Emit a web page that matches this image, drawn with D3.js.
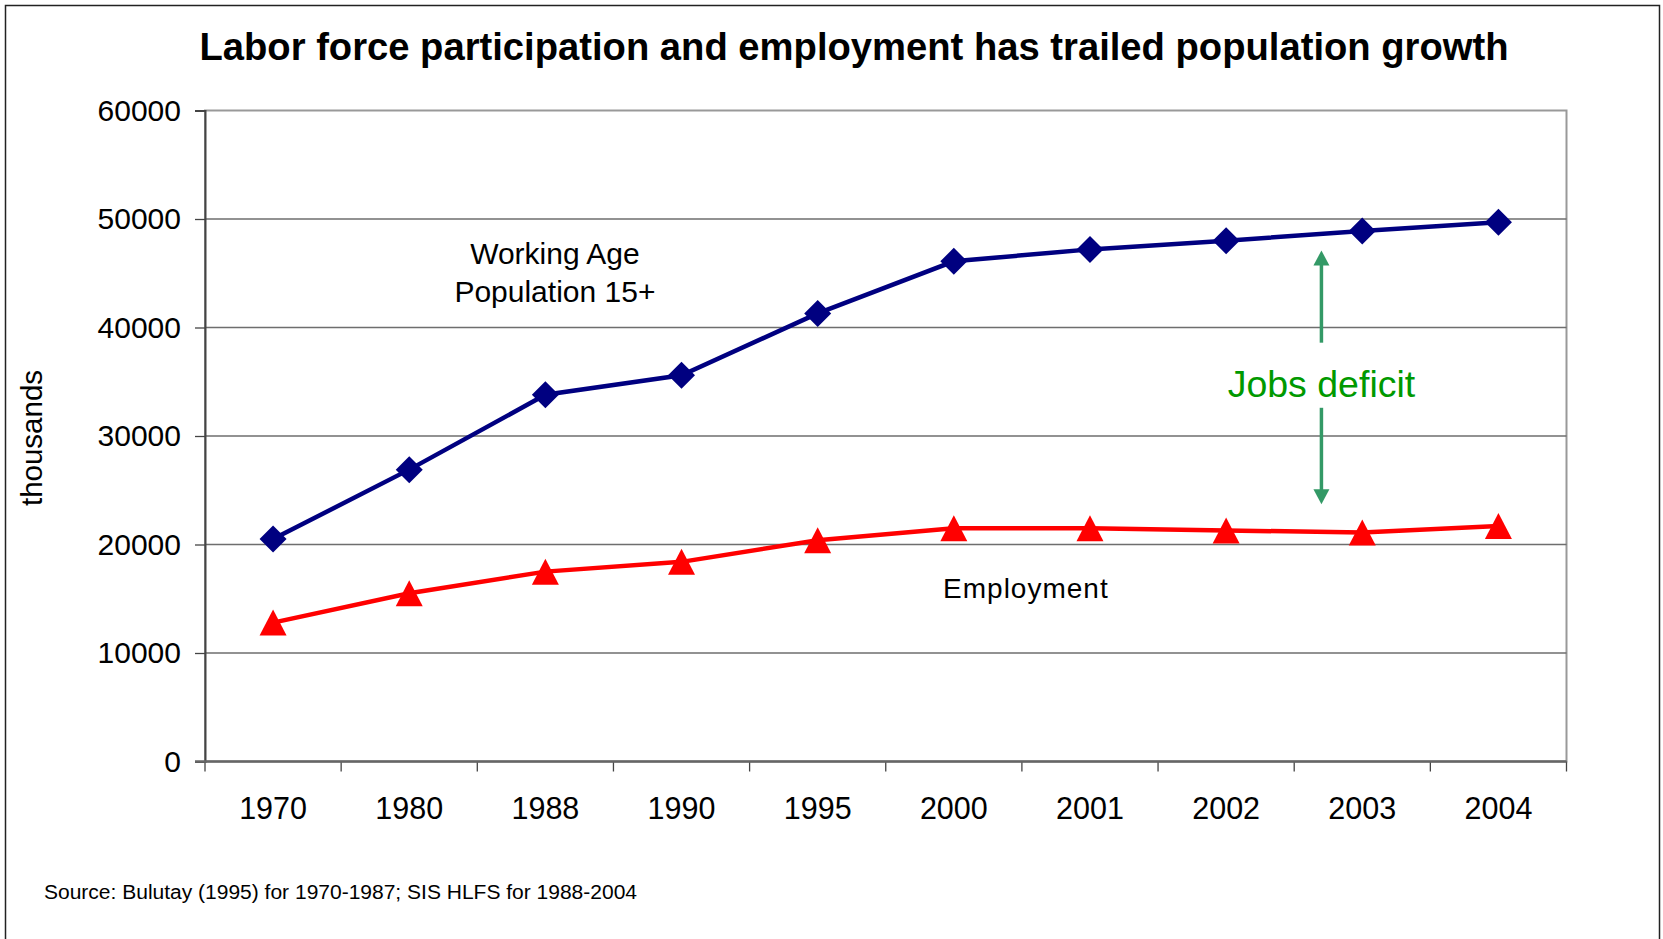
<!DOCTYPE html>
<html>
<head>
<meta charset="utf-8">
<script src="https://cdn.jsdelivr.net/npm/d3@7"></script>
<style>
  html, body { margin: 0; padding: 0; background: #fff; }
  svg { display: block; font-family: Arial, "Liberation Sans", sans-serif; }
</style>
</head>
<body>
<div class="graph"></div>
<script>
let width = 1663;
let height = 939;

// values (thousands)
let years = ['1970', '1980', '1988', '1990', '1995', '2000', '2001', '2002', '2003', '2004'];
let workingAge = [20500, 26900, 33800, 35600, 41300, 46100, 47200, 48000, 48900, 49700];
let employment = [12800, 15500, 17500, 18400, 20400, 21500, 21500, 21300, 21100, 21700];
let yTicks = [0, 10000, 20000, 30000, 40000, 50000, 60000];

let plotLeft = 205, plotRight = 1566.5, plotTop = 110.5, plotBottom = 761.5;

let svg = d3.select('.graph')
    .append('svg')
    .attr('width', width)
    .attr('height', height);

// outer frame
svg.append('rect')
    .attr('x', 5.5).attr('y', 5.5)
    .attr('width', 1654).attr('height', 945)
    .attr('fill', 'none')
    .attr('stroke', '#222')
    .attr('stroke-width', 1.5);

let x = d3.scaleBand()
    .domain(years)
    .range([plotLeft, plotRight])
    .padding(0);

let y = d3.scaleLinear()
    .domain([0, 60000])
    .range([plotBottom, plotTop]);

let cx = function (d, i) { return x(years[i]) + x.bandwidth() / 2; };

// plot area border
svg.append('rect')
    .attr('x', plotLeft).attr('y', plotTop)
    .attr('width', plotRight - plotLeft).attr('height', plotBottom - plotTop)
    .attr('fill', 'none')
    .attr('stroke', '#999')
    .attr('stroke-width', 2);

// gridlines
svg.append('g')
    .selectAll('line')
    .data(yTicks.filter(function (t) { return t > 0 && t < 60000; }))
    .enter().append('line')
    .attr('x1', plotLeft).attr('x2', plotRight)
    .attr('y1', function (d) { return y(d); })
    .attr('y2', function (d) { return y(d); })
    .attr('stroke', '#6e6e6e')
    .attr('stroke-width', 1.3);

// y axis
let yAxis = d3.axisLeft(y)
    .tickValues(yTicks)
    .tickSize(10)
    .tickPadding(14)
    .tickFormat(d3.format('d'));
let gy = svg.append('g')
    .attr('transform', 'translate(' + plotLeft + ',0)')
    .call(yAxis);
gy.select('.domain').attr('stroke', '#444').attr('stroke-width', 2);
gy.selectAll('.tick line').attr('stroke', '#444').attr('stroke-width', 1.3);
gy.selectAll('.tick text')
    .attr('font-size', '30px')
    .attr('font-family', 'Arial, "Liberation Sans", sans-serif')
    .attr('fill', '#000');

// x axis: ticks between categories, labels in the middle
let xAxis = d3.axisBottom(x).tickSize(0).tickPadding(36);
let gx = svg.append('g')
    .attr('transform', 'translate(0,' + plotBottom + ')')
    .call(xAxis);
gx.select('.domain').remove();
gx.selectAll('.tick text')
    .attr('font-size', '30.5px')
    .attr('font-family', 'Arial, "Liberation Sans", sans-serif')
    .attr('fill', '#000');

let bounds = years.map(function (d) { return x(d); }).concat([plotRight]);
svg.append('g')
    .selectAll('line')
    .data(bounds)
    .enter().append('line')
    .attr('x1', function (d) { return d; })
    .attr('x2', function (d) { return d; })
    .attr('y1', plotBottom)
    .attr('y2', plotBottom + 10)
    .attr('stroke', '#444')
    .attr('stroke-width', 1.3);

svg.append('line')
    .attr('x1', plotLeft - 10).attr('x2', plotRight)
    .attr('y1', plotBottom).attr('y2', plotBottom)
    .attr('stroke', '#666')
    .attr('stroke-width', 2.5);

// y axis title
svg.append('text')
    .attr('transform', 'translate(42,' + ((plotTop + plotBottom) / 2 + 2) + ') rotate(-90)')
    .attr('text-anchor', 'middle')
    .attr('font-size', '29.5px')
    .text('thousands');

// title
svg.append('text')
    .attr('x', 854)
    .attr('y', 60)
    .attr('text-anchor', 'middle')
    .attr('font-size', '38.2px')
    .attr('font-weight', 'bold')
    .text('Labor force participation and employment has trailed population growth');

// working age line + diamonds
let line = d3.line()
    .x(cx)
    .y(function (d) { return y(d); });

svg.append('path')
    .attr('d', line(workingAge))
    .attr('fill', 'none')
    .attr('stroke', '#000080')
    .attr('stroke-width', 4.5);

svg.append('g')
    .selectAll('path')
    .data(workingAge)
    .enter().append('path')
    .attr('transform', function (d, i) { return 'translate(' + cx(d, i) + ',' + y(d) + ')'; })
    .attr('d', 'M0,-13.5L13.5,0L0,13.5L-13.5,0Z')
    .attr('fill', '#000080');

// employment line + triangles
svg.append('path')
    .attr('d', line(employment))
    .attr('fill', 'none')
    .attr('stroke', '#ff0000')
    .attr('stroke-width', 4.5);

svg.append('g')
    .selectAll('path')
    .data(employment)
    .enter().append('path')
    .attr('transform', function (d, i) { return 'translate(' + cx(d, i) + ',' + y(d) + ')'; })
    .attr('d', 'M0,-13L13.5,13L-13.5,13Z')
    .attr('fill', '#ff0000');

// series labels
let wx = x('1988') + x.bandwidth() * 0.57;
svg.append('text')
    .attr('x', wx)
    .attr('y', y(45850))
    .attr('text-anchor', 'middle')
    .attr('font-size', '30px')
    .text('Working Age');
svg.append('text')
    .attr('x', wx)
    .attr('y', y(45850) + 38)
    .attr('text-anchor', 'middle')
    .attr('font-size', '30px')
    .text('Population 15+');

svg.append('text')
    .attr('x', x('2001') + 4)
    .attr('y', y(15100))
    .attr('text-anchor', 'middle')
    .attr('font-size', '28px')
    .attr('letter-spacing', '1px')
    .text('Employment');

// jobs deficit annotation
let ax = x('2003') + x.bandwidth() * 0.2;
svg.append('text')
    .attr('x', ax)
    .attr('y', y(33600))
    .attr('text-anchor', 'middle')
    .attr('font-size', '37.5px')
    .attr('fill', '#009900')
    .text('Jobs deficit');

svg.append('line')
    .attr('x1', ax).attr('x2', ax)
    .attr('y1', y(38600)).attr('y2', y(47100) + 12)
    .attr('stroke', '#339966')
    .attr('stroke-width', 3.5);
svg.append('path')
    .attr('d', 'M' + ax + ',' + y(47100) + 'l8,15l-16,0Z')
    .attr('fill', '#339966');

svg.append('line')
    .attr('x1', ax).attr('x2', ax)
    .attr('y1', y(32600)).attr('y2', y(23700) - 12)
    .attr('stroke', '#339966')
    .attr('stroke-width', 3.5);
svg.append('path')
    .attr('d', 'M' + ax + ',' + y(23700) + 'l8,-15l-16,0Z')
    .attr('fill', '#339966');

// source note
svg.append('text')
    .attr('x', 44)
    .attr('y', 899)
    .attr('font-size', '19.5px')
    .attr('textLength', 593)
    .attr('lengthAdjust', 'spacingAndGlyphs')
    .text('Source: Bulutay (1995) for 1970-1987; SIS HLFS for 1988-2004');
</script>
</body>
</html>
